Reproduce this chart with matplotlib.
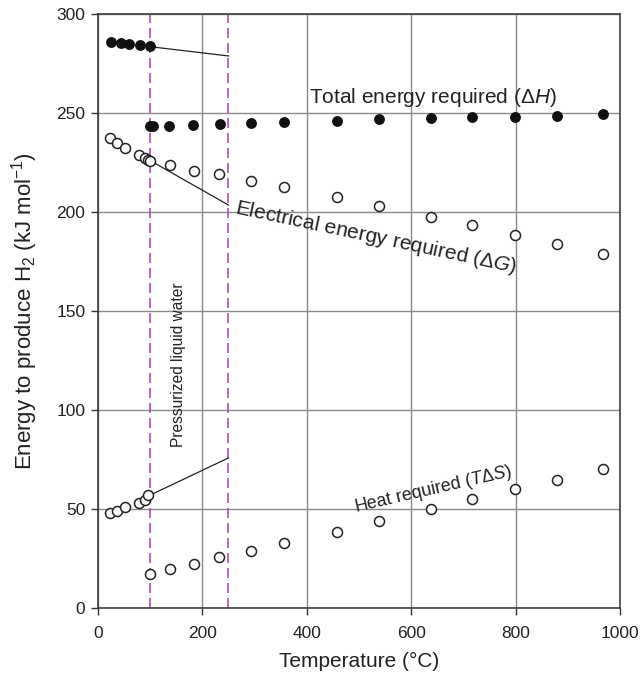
import matplotlib
matplotlib.use("Agg")
import matplotlib.pyplot as plt

plt.rcParams['font.family'] = ['Liberation Sans', 'DejaVu Sans']
plt.rcParams['mathtext.fontset'] = 'custom'
plt.rcParams['mathtext.rm'] = 'Liberation Sans'
plt.rcParams['mathtext.it'] = 'Liberation Sans:italic'
plt.rcParams['mathtext.bf'] = 'Liberation Sans:bold'

# Liquid water region (data points)
t_liq = [25, 45, 60, 80, 100]
dH_liq = [285.8, 285.5, 284.8, 284.3, 283.7]
t_liq_o = [23, 36, 52, 79, 90, 96]
dG_liq = [237.6, 234.8, 232.3, 228.6, 227.5, 226.3]
TdS_liq = [48.2, 49.1, 51.0, 53.2, 54.7, 57.0]

# Pressurized liquid water extrapolation lines
t_ext = [100, 250]
dH_ext = [283.5, 278.8]
dG_ext = [226.0, 203.5]
TdS_ext = [57.0, 75.8]

# Steam region
t_vap_H = [100, 106, 136, 182, 234, 293, 356, 458, 538, 638, 716, 799, 879, 967]
dH_vap = [243.4, 243.4, 243.6, 243.8, 244.2, 245.0, 245.5, 246.1, 246.9, 247.5, 247.8, 248.2, 248.7, 249.4]
t_vap = [100, 138, 184, 232, 293, 356, 458, 538, 638, 716, 799, 879, 967]
dG_vap = [226.0, 223.5, 220.7, 219.0, 215.7, 212.6, 207.6, 203.0, 197.5, 193.4, 188.4, 183.8, 178.8]
TdS_vap = [17.2, 19.8, 22.2, 25.8, 28.8, 32.8, 38.4, 43.9, 50.0, 55.0, 60.0, 64.6, 70.2]

region_bounds = [100, 250]

x_ticks = [0, 200, 400, 600, 800, 1000]
y_ticks = [0, 50, 100, 150, 200, 250, 300]

txt = '#222222'
fig = plt.figure(figsize=(6.44, 6.76), dpi=100)
ax = fig.add_axes([0.152, 0.1006, 0.811, 0.8787])

ax.set_xlim(0, 1000)
ax.set_ylim(0, 300)
ax.set_xticks(x_ticks)
ax.set_yticks(y_ticks)
ax.grid(True, color='#8a8a8a', linewidth=1.0)
ax.set_axisbelow(True)
for s in ax.spines.values():
    s.set_color('#333333')
    s.set_linewidth(1.1)
ax.tick_params(direction='out', length=5, width=1, colors='#333333',
               labelsize=12.5, labelcolor=txt)
ax.tick_params(axis='x', pad=8)
ax.tick_params(axis='y', pad=4)

for xb in region_bounds:
    ax.axvline(xb, color='#b34db3', linewidth=1.2, linestyle=(0, (6, 3)), zorder=2)

lw_line = 0.9
ax.plot(t_ext, dH_ext, color='#222222', lw=lw_line, zorder=3)
ax.plot(t_ext, dG_ext, color='#222222', lw=lw_line, zorder=3)
ax.plot(t_ext, TdS_ext, color='#222222', lw=lw_line, zorder=3)

fs = 6.8
ax.plot(t_liq, dH_liq, 'o', color='#111111', ms=fs, zorder=4, clip_on=False)
ax.plot(t_vap_H, dH_vap, 'o', color='#111111', ms=fs, zorder=4)
mk = dict(marker='o', linestyle='none', mfc='white', mec='#222222', mew=1.1, ms=7.2, zorder=4)
ax.plot(t_liq_o, dG_liq, **mk)
ax.plot(t_liq_o, TdS_liq, **mk)
ax.plot(t_vap, dG_vap, **mk)
ax.plot(t_vap, TdS_vap, **mk)

ax.text(404, 258, r'Total energy required (Δ$\it{H}$)', fontsize=15, color=txt,
        ha='left', va='center')
ax.text(261, 199.5, r'Electrical energy required (Δ$\it{G}$)', fontsize=15, color=txt,
        ha='left', va='baseline', rotation=-12, rotation_mode='anchor')
ax.text(494, 48.5, r'Heat required ($\it{T}$Δ$\it{S}$)', fontsize=12.9, color=txt,
        ha='left', va='baseline', rotation=13, rotation_mode='anchor')
ax.text(154, 123, 'Pressurized liquid water', fontsize=11.2, color=txt,
        ha='center', va='center', rotation=90)

ax.set_xlabel('Temperature (°C)', fontsize=15, color=txt, labelpad=8)
ax.set_ylabel(r'Energy to produce H$_2$ (kJ mol$^{-1}$)', fontsize=16, color=txt, labelpad=12)

fig.savefig('out.png', dpi=100)
